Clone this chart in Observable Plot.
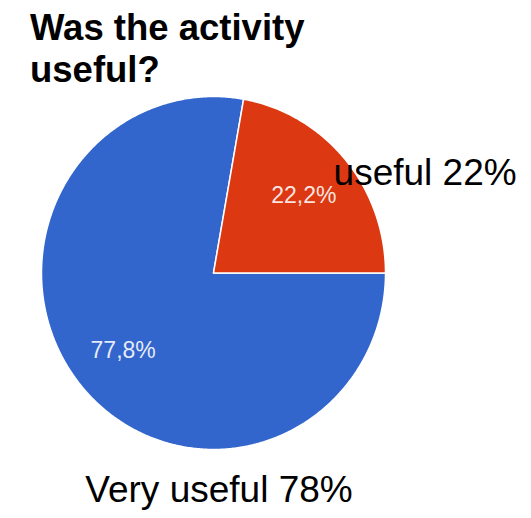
<!DOCTYPE html>
<html>
<head>
<meta charset="utf-8">
<script src="https://cdn.jsdelivr.net/npm/d3@7"></script>
<script src="https://cdn.jsdelivr.net/npm/@observablehq/plot@0.6"></script>
<style>
  html, body { margin: 0; padding: 0; background: #fff; }
  #wrap { position: relative; width: 531px; height: 518px; overflow: hidden; }
  #title {
    position: absolute; left: 30px; top: 7px; margin: 0;
    font: bold 36.5px/42px "Liberation Sans", Arial, sans-serif; color: #000;
  }
  svg { display: block; }
</style>
</head>
<body>
<div id="wrap">
  <div id="chart"></div>
  <h2 id="title">Was the activity<br>useful?</h2>
</div>
<script>
// ---- data ----
const categories = ["Very useful", "useful"];
const values = [77.8, 22.2];
const sliceLabels = ["77,8%", "22,2%"];
const calloutLabels = ["Very useful 78%", "useful 22%"];
const colors = ["#3366cc", "#dc3912"];

// ---- geometry from data ----
const pie = d3.pie().sort(null).startAngle(Math.PI / 2).endAngle(Math.PI / 2 + 2 * Math.PI);
const arcs = pie(values);

function slicePolygon(a, i) {
  const pts = [{x: 0, y: 0, k: categories[i]}];
  const n = Math.max(2, Math.ceil((a.endAngle - a.startAngle) / (Math.PI / 360)));
  for (let j = 0; j <= n; j++) {
    const t = a.startAngle + (a.endAngle - a.startAngle) * j / n;
    pts.push({x: Math.sin(t), y: Math.cos(t), k: categories[i]});
  }
  pts.push({x: 0, y: 0, k: categories[i]});
  return pts;
}

const innerLabels = arcs.map((a, i) => {
  const m = (a.startAngle + a.endAngle) / 2;
  return {x: 0.685 * Math.sin(m), y: 0.685 * Math.cos(m), text: sliceLabels[i]};
});

const marks = arcs.map((a, i) =>
  Plot.line(slicePolygon(a, i), {
    x: "x", y: "y", fill: colors[i], stroke: "#fff", strokeWidth: 1.5, curve: "linear"
  })
);

marks.push(Plot.text(innerLabels, {
  x: "x", y: "y", text: "text", fill: "#fff", fillOpacity: 0.88,
  fontSize: 23, fontFamily: "Liberation Sans, Arial, sans-serif", lineAnchor: "middle"
}));

// callouts overlaid on the picture
marks.push(Plot.text([calloutLabels[1]], {
  x: 0.698, y: 0.496, text: d => d, textAnchor: "start", lineAnchor: "bottom",
  fill: "#000", fontSize: 37, fontFamily: "Liberation Sans, Arial, sans-serif"
}));
marks.push(Plot.text([calloutLabels[0]], {
  x: 0.032, y: -1.30, text: d => d, textAnchor: "middle", lineAnchor: "bottom",
  fill: "#000", fontSize: 37, fontFamily: "Liberation Sans, Arial, sans-serif"
}));

const chart = Plot.plot({
  width: 531,
  height: 518,
  margin: 0,
  x: {domain: [-1, 1], range: [41, 385], axis: null},
  y: {domain: [-1, 1], range: [449, 96], axis: null},
  style: {background: "transparent", overflow: "visible"},
  marks
});
document.getElementById("chart").appendChild(chart);
</script>
</body>
</html>
